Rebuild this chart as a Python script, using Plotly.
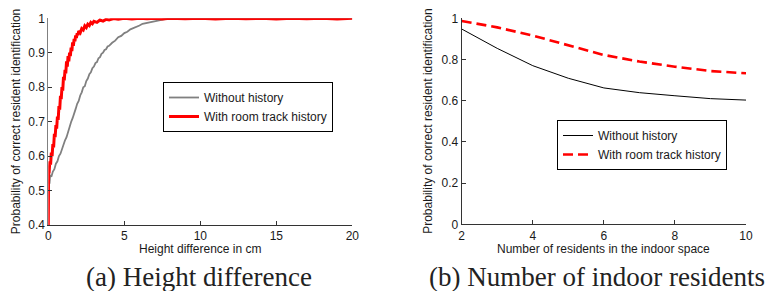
import plotly.graph_objects as go

# ---------------- data ----------------
# (a) Height difference
height_x_with = [0, 0, 0.02, 0.05, 0.1, 0.15, 0.2, 0.25, 0.3, 0.35, 0.4, 0.45, 0.5, 0.55, 0.6, 0.65,
                 0.7, 0.75, 0.8, 0.85, 0.9, 0.95, 1.0, 1.05, 1.1, 1.15, 1.2, 1.25, 1.3, 1.35, 1.4, 1.45,
                 1.5, 1.55, 1.6, 1.65, 1.7, 1.75, 1.8, 1.85, 1.9, 1.95, 2.0, 2.1, 2.2, 2.3, 2.4, 2.5,
                 2.6, 2.7, 2.8, 2.9, 3.0, 3.2, 3.4, 3.6, 3.8, 4.0, 4.3, 4.6, 5.0, 5.5, 6.0, 6.5, 7.0,
                 7.5, 8, 9, 10, 11, 12, 13, 14, 15, 16, 17, 18, 19, 20]
height_p_with = [0.40, 0.50, 0.56, 0.55, 0.585, 0.575, 0.61, 0.60, 0.635, 0.625, 0.665, 0.655, 0.69, 0.68,
                 0.715, 0.705, 0.745, 0.735, 0.775, 0.765, 0.80, 0.79, 0.83, 0.82, 0.85, 0.84, 0.875, 0.86,
                 0.89, 0.875, 0.90, 0.89, 0.915, 0.905, 0.93, 0.92, 0.94, 0.933, 0.95, 0.943, 0.957, 0.951,
                 0.963, 0.958, 0.97, 0.966, 0.978, 0.973, 0.983, 0.979, 0.988, 0.984, 0.991, 0.988, 0.995,
                 0.992, 0.997, 0.995, 0.999, 0.997, 1.0, 0.998, 1.0, 0.999, 1.0, 0.998, 1.0, 0.999, 1.0,
                 0.998, 1.0, 0.999, 1.0, 0.998, 1.0, 0.999, 1.0, 0.998, 1.0]

height_x_without = [0.08, 0.12, 0.2, 0.3, 0.4, 0.5, 0.6, 0.7, 0.8, 0.9, 1.0, 1.1, 1.2, 1.3, 1.4, 1.5, 1.6,
                    1.7, 1.8, 1.9, 2.0, 2.1, 2.2, 2.3, 2.4, 2.5, 2.6, 2.7, 2.8, 2.9, 3.0, 3.1, 3.2, 3.3,
                    3.4, 3.5, 3.6, 3.7, 3.8, 3.9, 4.0, 4.2, 4.4, 4.6, 4.8, 5.0, 5.2, 5.4, 5.6, 5.8, 6.0,
                    6.2, 6.4, 6.7, 7.0, 7.3, 7.6, 8.0, 9, 20]
height_p_without = [0.52, 0.545, 0.54, 0.555, 0.562, 0.578, 0.585, 0.60, 0.607, 0.622, 0.63, 0.646, 0.655,
                    0.672, 0.683, 0.699, 0.71, 0.727, 0.737, 0.752, 0.76, 0.776, 0.785, 0.80, 0.803, 0.818,
                    0.825, 0.838, 0.843, 0.855, 0.86, 0.87, 0.873, 0.884, 0.887, 0.897, 0.90, 0.908, 0.91,
                    0.918, 0.92, 0.929, 0.935, 0.945, 0.949, 0.957, 0.961, 0.968, 0.971, 0.976, 0.979,
                    0.984, 0.986, 0.99, 0.993, 0.995, 0.997, 0.999, 1.0, 1.0]

# (b) Number of indoor residents
residents = [2, 3, 4, 5, 6, 7, 8, 9, 10]
p_without = [0.948, 0.854, 0.77, 0.709, 0.662, 0.639, 0.624, 0.61, 0.603]
p_with = [0.987, 0.956, 0.916, 0.87, 0.822, 0.79, 0.765, 0.744, 0.733]

legend_names = ["Without history", "With room track history"]
captions = ["(a) Height difference", "(b) Number of indoor residents"]
xtitles = ["Height difference in cm", "Number of residents in the indoor space"]
ytitle = "Probability of correct resident identification"

# ---------------- figure ----------------
W, H = 765, 291
def px(x):
    return x / W
def py(y):
    return 1 - y / H

SANS = "Liberation Sans, Arial, sans-serif"
TXT = "#1a1a1a"

fig = go.Figure()
fig.add_trace(go.Scatter(x=height_x_without, y=height_p_without, mode="lines", name=legend_names[0],
                         line=dict(color="#808080", width=1.8), xaxis="x", yaxis="y", legend="legend"))
fig.add_trace(go.Scatter(x=height_x_with, y=height_p_with, mode="lines", name=legend_names[1],
                         line=dict(color="#ff0000", width=3), xaxis="x", yaxis="y", legend="legend"))
fig.add_trace(go.Scatter(x=residents, y=p_without, mode="lines", name=legend_names[0],
                         line=dict(color="#000000", width=1), xaxis="x2", yaxis="y2", legend="legend2"))
fig.add_trace(go.Scatter(x=residents, y=p_with, mode="lines", name=legend_names[1],
                         line=dict(color="#ff0000", width=2.6, dash="10px,5px"),
                         xaxis="x2", yaxis="y2", legend="legend2"))

axis_common = dict(showgrid=False, zeroline=False, showline=True, linewidth=1, linecolor="#333333",
                   ticks="inside", ticklen=4, tickwidth=1, tickcolor="#333333", automargin=False,
                   tickfont=dict(family=SANS, size=12, color=TXT), fixedrange=True)

fig.update_layout(
    template="none",
    width=W, height=H, margin=dict(l=0, r=0, t=0, b=0, pad=0, autoexpand=False),
    paper_bgcolor="white", plot_bgcolor="white",
    font=dict(family=SANS, size=12, color=TXT),
    xaxis=dict(domain=[px(48.3), px(352.3)], range=[0, 20], tickvals=[0, 5, 10, 15, 20],
               anchor="y", **axis_common),
    yaxis=dict(domain=[py(225), py(18.3)], range=[0.4, 1], tickvals=[0.4, 0.5, 0.6, 0.7, 0.8, 0.9, 1],
               ticktext=["0.4", "0.5", "0.6", "0.7", "0.8", "0.9", "1"], anchor="x",
               **{**axis_common, "linecolor": "#808080"}),
    xaxis2=dict(domain=[px(461.7), px(746)], range=[2, 10], tickvals=[2, 4, 6, 8, 10],
                anchor="y2", **axis_common),
    yaxis2=dict(domain=[py(224.3), py(18.3)], range=[0, 1], tickvals=[0, 0.2, 0.4, 0.6, 0.8, 1],
                ticktext=["0", "0.2", "0.4", "0.6", "0.8", "1"], anchor="x2", **axis_common),
    legend=dict(x=px(163), y=py(82), xanchor="left", yanchor="top", bgcolor="white",
                bordercolor="#000000", borderwidth=1, font=dict(family=SANS, size=12, color=TXT),
                tracegroupgap=0, itemwidth=30),
    legend2=dict(x=px(557), y=py(120), xanchor="left", yanchor="top", bgcolor="white",
                 bordercolor="#000000", borderwidth=1, font=dict(family=SANS, size=12, color=TXT),
                 tracegroupgap=0, itemwidth=30),
    showlegend=True,
)

annotations = [
    dict(text=ytitle, x=px(15.5), y=py(121.7), textangle=-90),
    dict(text=ytitle, x=px(428.5), y=py(121.3), textangle=-90),
    dict(text=xtitles[0], x=px(200.3), y=py(249.3)),
    dict(text=xtitles[1], x=px(603.9), y=py(249.3)),
]
for a in annotations:
    fig.add_annotation(xref="paper", yref="paper", showarrow=False, xanchor="center", yanchor="middle",
                       font=dict(family=SANS, size=12, color=TXT), **a)
for cap, cx in zip(captions, [198.8, 597]):
    fig.add_annotation(xref="paper", yref="paper", showarrow=False, xanchor="center", yanchor="middle",
                       text=cap, x=px(cx), y=py(277),
                       font=dict(family="Liberation Serif, Times New Roman, serif", size=27, color="#222222"))

fig.write_html("out.html", config={"displayModeBar": False},
               post_script="document.body.style.margin='0';document.body.style.overflow='hidden';")
